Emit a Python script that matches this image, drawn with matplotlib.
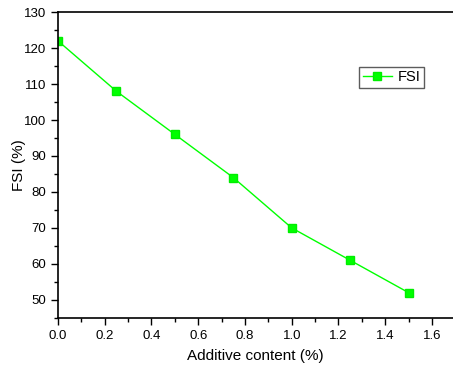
import matplotlib
matplotlib.use('Agg')
import matplotlib.pyplot as plt
from matplotlib.ticker import MultipleLocator

plt.rcParams['font.family'] = ['Liberation Sans', 'DejaVu Sans']

# datos
additive = [0.0, 0.25, 0.5, 0.75, 1.0, 1.25, 1.5]
fsi = [122, 108, 96, 84, 70, 61, 52]

fig = plt.figure(figsize=(4.53, 3.67), dpi=100)
ax = fig.add_axes([0.128, 0.134, 0.872, 0.833])

ax.plot(additive, fsi, color='#00ff00', lw=1, marker='s', markersize=5.5,
        markeredgecolor='#00ee00', label='FSI')

ax.set_xlim(0, 1.69)
ax.set_ylim(45, 130)
ax.xaxis.set_major_locator(MultipleLocator(0.2))
ax.xaxis.set_minor_locator(MultipleLocator(0.1))
ax.yaxis.set_major_locator(MultipleLocator(10))
ax.yaxis.set_minor_locator(MultipleLocator(5))
ax.tick_params(which='both', direction='out', labelsize=9.5, width=1)
ax.tick_params(which='major', length=5)
ax.tick_params(which='minor', length=3)
ax.spines['right'].set_visible(False)
for s in ['left', 'bottom', 'top']:
    ax.spines[s].set_linewidth(1.2)

ax.set_xlabel('Additive content (%)', fontsize=11, labelpad=5)
ax.set_ylabel('FSI (%)', fontsize=11)
ax.yaxis.set_label_coords(-0.08, 0.5)

leg = ax.legend(loc='upper left', bbox_to_anchor=(0.762, 0.822), fontsize=10.5,
                fancybox=False, edgecolor='#333333', handlelength=2.0,
                borderpad=0.25, handletextpad=0.4, borderaxespad=0)
leg.get_frame().set_linewidth(1)

fig.savefig('out.png', dpi=100)
